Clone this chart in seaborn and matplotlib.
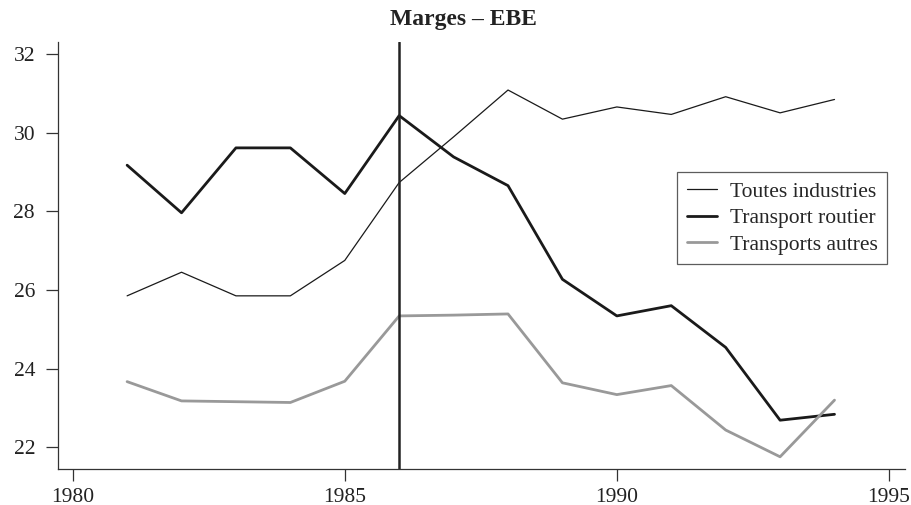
import numpy as np
import pandas as pd
import seaborn as sns
import matplotlib.pyplot as plt

# data
years = list(range(1981, 1995))
toutes = [25.85, 26.45, 25.85, 25.85, 26.75, 28.73, 29.89, 31.08, 30.34, 30.65, 30.46, 30.91, 30.50, 30.84]
routier = [29.17, 27.96, 29.61, 29.61, 28.45, 30.43, 29.38, 28.65, 26.27, 25.34, 25.60, 24.54, 22.69, 22.84]
autres = [23.67, 23.18, 23.16, 23.14, 23.68, 25.34, 25.36, 25.39, 23.64, 23.34, 23.57, 22.44, 21.76, 23.20]
series_names = ["Toutes industries", "Transport routier", "Transports autres"]
x_ticks = [1980, 1985, 1990, 1995]
y_ticks = [22, 24, 26, 28, 30, 32]
break_year = 1986

df = pd.DataFrame({"annee": years * 3,
                   "valeur": toutes + routier + autres,
                   "serie": np.repeat(series_names, len(years))})

sns.set_style("ticks")
plt.rcParams["font.family"] = ["Liberation Serif", "DejaVu Serif"]

fig = plt.figure(figsize=(9.12, 5.05), dpi=100)
ax = fig.add_axes([0.0636, 0.0713, 0.9284, 0.8455])

colors = {"Toutes industries": "#1a1a1a", "Transport routier": "#1a1a1a", "Transports autres": "#999999"}
widths = {"Toutes industries": 0.9, "Transport routier": 2.0, "Transports autres": 2.0}
for name in series_names:
    sns.lineplot(data=df[df["serie"] == name], x="annee", y="valeur", ax=ax,
                 color=colors[name], linewidth=widths[name], label=name)

ax.axvline(break_year, color="#222222", linewidth=1.8)

ax.set_xlim(1979.73, 1995.29)
ax.set_ylim(21.45, 32.3)
ax.set_xticks(x_ticks)
ax.set_yticks(y_ticks)
ax.set_xlabel("")
ax.set_ylabel("")
ax.tick_params(axis="both", labelsize=15.5, length=8.5, width=0.9, pad=5,
               color="#333333", labelcolor="#222222")
ax.tick_params(axis="y", pad=8)
for s in ["left", "bottom"]:
    ax.spines[s].set_linewidth(0.9)
    ax.spines[s].set_color("#333333")
sns.despine(ax=ax)

leg = ax.legend(loc="upper left", bbox_to_anchor=(0.731, 0.696), borderaxespad=0, fontsize=15.5,
                frameon=True, fancybox=False, edgecolor="#333333", handlelength=1.4,
                borderpad=0.45, labelspacing=0.3, handletextpad=0.6)
leg.get_frame().set_linewidth(0.9)

fig.text(463 / 912, 1 - 20 / 505, "Marges \u2013 EBE", ha="center", va="center",
         fontsize=17, fontweight="bold", color="#222222")

fig.savefig("out.png", dpi=100)
